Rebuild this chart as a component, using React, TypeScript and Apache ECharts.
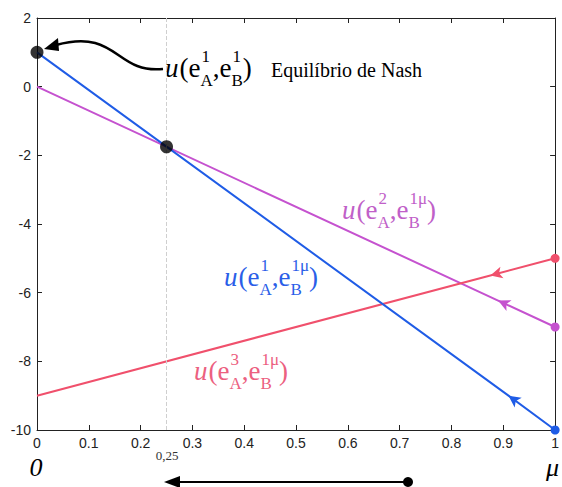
import React, { useEffect, useRef } from "react";
import * as echarts from "echarts";

// ---- data ----
const xTickLabels = ["0", "0.1", "0.2", "0.3", "0.4", "0.5", "0.6", "0.7", "0.8", "0.9", "1"];
const yTickLabels = ["-10", "-8", "-6", "-4", "-2", "0", "2"];
// [mu, u] : start, arrow marker, end
const blueData: [number, number][] = [[0, 1], [0.91, -9.0], [1, -10]];
const magentaData: [number, number][] = [[0, 0], [0.89, -6.23], [1, -7]];
const redData: [number, number][] = [[0, -9], [0.875, -5.5], [1, -5]];
const nashPoints: [number, number][] = [[0, 1], [0.25, -1.75]];
const thresholdMu = 0.25;

const BLUE = "#1f5ce6";
const MAGENTA = "#c552cf";
const RED = "#f0506c";

const GRID = { left: 37, right: 5, top: 18, bottom: 57 };
const W = 562, H = 487;
const plotW = W - GRID.left - GRID.right;
const plotH = H - GRID.top - GRID.bottom;

function arrowRotate(d: [number, number][], i: number) {
  const [x0, y0] = d[i - 1];
  const [x1, y1] = d[i];
  const dx = ((x0 - x1) / 1) * plotW;
  const dy = ((y0 - y1) / 12) * plotH;
  return (Math.atan2(dy, dx) * 180) / Math.PI - 90;
}

function seriesData(d: [number, number][]) {
  return d.map((p, i) => {
    if (i === 0) return { value: p, symbol: "none" };
    if (i === d.length - 1) return { value: p, symbol: "circle", symbolSize: 9 };
    return { value: p, symbol: "arrow", symbolSize: [9, 12], symbolRotate: arrowRotate(d, i) };
  });
}

const SERIF = "Liberation Serif";
let measureCtx: CanvasRenderingContext2D | null = null;
function tw(text: string, size: number, italic = false) {
  if (!measureCtx) measureCtx = document.createElement("canvas").getContext("2d");
  measureCtx!.font = `${italic ? "italic " : ""}${size}px ${SERIF}`;
  return measureCtx!.measureText(text).width;
}

// text element: y is the visual centre; default (top) vertical alignment is used
function txt(text: string, x: number, y: number, size: number, color: string, italic = false, center = false) {
  const style: any = { text, fontFamily: SERIF, fontSize: size };
  if (italic) style.fontStyle = "italic";
  if (color !== "#000") style.fill = color;
  const w = center ? tw(text, size, italic) / 2 : 0;
  return { type: "text", x: x - w, y: y - size * 0.58, style };
}

function formula(x: number, y: number, supA: string, supB: string, color: string) {
  const F = 27, S = 17;
  const els: any[] = [];
  let cx = x;
  els.push(txt("u", cx, y, F, color, true));
  cx += tw("u", F, true) + 1;
  els.push(txt("(e", cx, y, F, color));
  cx += tw("(e", F);
  els.push(txt(supA, cx + 1, y - 12, S, color));
  els.push(txt("A", cx, y + 12, S, color));
  cx += Math.max(tw(supA, S) + 1, tw("A", S));
  els.push(txt(",e", cx, y, F, color));
  cx += tw(",e", F);
  els.push(txt(supB, cx + 1, y - 12, S, color));
  els.push(txt("B", cx, y + 12, S, color));
  cx += Math.max(tw(supB, S) + 1, tw("B", S));
  els.push(txt(")", cx, y, F, color));
  return els;
}

export default function App() {
  const ref = useRef<HTMLDivElement>(null);
  useEffect(() => {
    document.body.style.margin = "0";
    const chart = echarts.init(ref.current!, undefined, { renderer: "svg" });
    const axisColor = "#222";
    const xCommon = {
      type: "value",
      min: 0,
      max: 1,
      interval: 0.1,
      splitLine: { show: false },
      axisLine: { show: true, onZero: false, lineStyle: { color: axisColor, width: 1 } },
      axisTick: { show: true, inside: true, length: 5, lineStyle: { color: axisColor } },
    };
    const yCommon = {
      type: "value",
      min: -10,
      max: 2,
      interval: 2,
      splitLine: { show: false },
      axisLine: { show: true, onZero: false, lineStyle: { color: axisColor, width: 1 } },
      axisTick: { show: true, inside: true, length: 5, lineStyle: { color: axisColor } },
    };
    const option: any = {
      animation: false,
      textStyle: { fontFamily: SERIF },
      grid: { ...GRID, show: false },
      xAxis: [
        {
          ...xCommon,
          position: "bottom",
          axisLabel: {
            color: "#222",
            fontFamily: "Liberation Sans",
            fontSize: 14,
            margin: 6,
            formatter: (v: number) => xTickLabels[Math.round(v * 10)] ?? "",
          },
        },
        { ...xCommon, position: "top", axisLabel: { show: false } },
      ],
      yAxis: [
        {
          ...yCommon,
          position: "left",
          axisLabel: {
            color: "#222",
            fontFamily: "Liberation Sans",
            fontSize: 14,
            margin: 6,
            formatter: (v: number) => yTickLabels[Math.round((v + 10) / 2)] ?? "",
          },
        },
        { ...yCommon, position: "right", axisLabel: { show: false } },
      ],
      series: [
        {
          type: "line",
          data: seriesData(magentaData),
          itemStyle: { color: MAGENTA },
          lineStyle: { color: MAGENTA, width: 2 },
          markLine: {
            silent: true,
            symbol: "none",
            label: { show: false },
            lineStyle: { color: "#cfcfcf", type: "dashed", width: 1 },
            data: [{ xAxis: thresholdMu }],
          },
        },
        {
          type: "line",
          data: seriesData(redData),
          itemStyle: { color: RED },
          lineStyle: { color: RED, width: 2 },
        },
        {
          type: "line",
          data: seriesData(blueData),
          itemStyle: { color: BLUE },
          lineStyle: { color: BLUE, width: 2 },
        },
        {
          type: "scatter",
          data: nashPoints,
          symbolSize: 13,
          itemStyle: { color: "#000" },
          z: 10,
        },
      ],
      graphic: [
        ...formula(165, 70, "1", "1", "#000"),
        txt("Equilíbrio de Nash", 271, 72, 20, "#000"),
        ...formula(342, 212, "2", "1μ", "#c060c8"),
        ...formula(224, 279, "1", "1μ", "#2a5ee8"),
        ...formula(194, 373, "3", "1μ", "#ec6080"),
        {
          type: "bezierCurve",
          shape: { x1: 163, y1: 69, cpx1: 115, cpy1: 74, cpx2: 118, cpy2: 28, x2: 56, y2: 45 },
          style: { stroke: "#000", lineWidth: 2.5, fill: "none" },
        },
        {
          type: "polygon",
          shape: { points: [[44, 49], [58, 38], [59, 51]] },
          style: { fill: "#000" },
        },
        txt("0,25", 167, 457, 13, "#333", false, true),
        txt("0", 36, 470, 26, "#000", true, true),
        txt("μ", 546, 470, 26, "#000", true),
        {
          type: "line",
          shape: { x1: 176, y1: 482, x2: 407, y2: 482 },
          style: { stroke: "#000", lineWidth: 2 },
        },
        {
          type: "polygon",
          shape: { points: [[164, 482], [180, 476], [180, 488]] },
          style: { fill: "#000" },
        },
        { type: "circle", shape: { cx: 408, cy: 482, r: 5 }, style: { fill: "#000" } },
      ],
    };
    chart.setOption(option);
    return () => chart.dispose();
  }, []);
  return (
    <div
      ref={ref}
      style={{ width: W, height: H, fontFamily: "'Liberation Serif', serif", background: "#fff" }}
    />
  );
}
